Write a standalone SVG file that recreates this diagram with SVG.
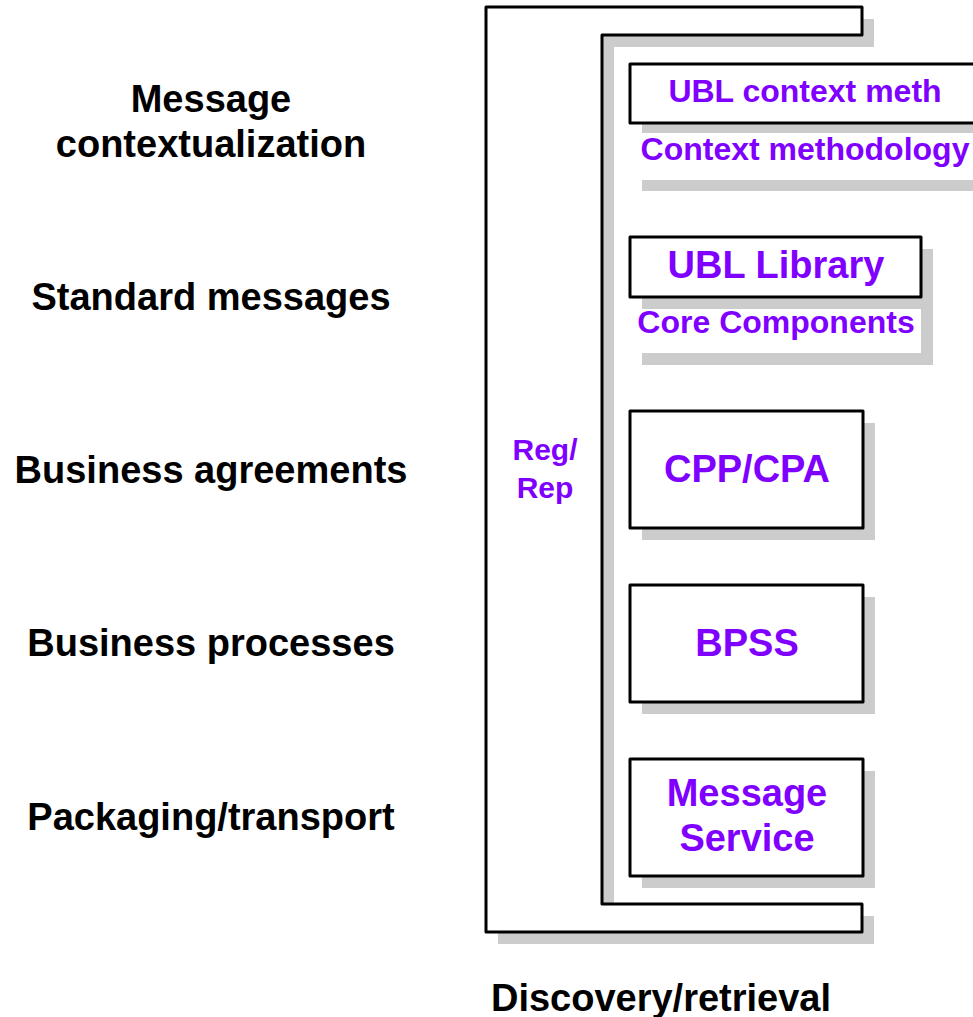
<svg xmlns="http://www.w3.org/2000/svg" width="973" height="1017" viewBox="0 0 973 1017">
<style>
.lbl{font-family:"Liberation Sans",Arial,sans-serif;font-weight:bold;font-size:38px;fill:#000;text-anchor:middle}
.pt{font-family:"Liberation Sans",Arial,sans-serif;font-weight:bold;fill:#7F00FF;text-anchor:middle}
.sh{fill:#CCCCCC;stroke:none}
.bx{fill:#FFFFFF;stroke:#000;stroke-width:3;stroke-linejoin:round}
.wh{fill:#FFFFFF;stroke:none}
</style>
<rect width="973" height="1017" fill="#FFFFFF"/>
<g id="labels">
<text class="lbl" x="211" y="112">Message</text>
<text class="lbl" x="211" y="157">contextualization</text>
<text class="lbl" x="211" y="310">Standard messages</text>
<text class="lbl" x="211" y="483">Business agreements</text>
<text class="lbl" x="211" y="656">Business processes</text>
<text class="lbl" x="211" y="830">Packaging/transport</text>
<text class="lbl" x="661" y="1011">Discovery/retrieval</text>
</g>
<g id="regrep">
<polygon class="sh" points="498,19 874,19 874,47 614,47 614,916 874,916 874,944 498,944"/>
<polygon class="bx" points="486,7 862,7 862,35 602,35 602,904 862,904 862,932 486,932"/>
<text class="pt" x="545" y="460" font-size="30">Reg/</text>
<text class="pt" x="545" y="498" font-size="30">Rep</text>
</g>
<g id="ubl-context">
<rect class="sh" x="642" y="76" width="350" height="115"/>
<rect class="bx" x="630" y="64" width="350" height="59"/>
<rect class="wh" x="630" y="133" width="350" height="47"/>
<text class="pt" x="805" y="102" font-size="32">UBL context meth</text>
<text class="pt" x="805" y="160" font-size="32">Context methodology</text>
</g>
<g id="ubl-library">
<rect class="sh" x="642" y="249" width="291" height="116"/>
<rect class="bx" x="630" y="237" width="291" height="60"/>
<rect class="wh" x="630" y="309" width="291" height="44"/>
<text class="pt" x="776" y="278" font-size="38">UBL Library</text>
<text class="pt" x="776" y="333" font-size="32">Core Components</text>
</g>
<g id="cpp-cpa">
<rect class="sh" x="642" y="423" width="233" height="117"/>
<rect class="bx" x="630" y="411" width="233" height="117"/>
<text class="pt" x="747" y="482" font-size="38">CPP/CPA</text>
</g>
<g id="bpss">
<rect class="sh" x="642" y="597" width="233" height="117"/>
<rect class="bx" x="630" y="585" width="233" height="117"/>
<text class="pt" x="747" y="656" font-size="38">BPSS</text>
</g>
<g id="message-service">
<rect class="sh" x="642" y="771" width="233" height="117"/>
<rect class="bx" x="630" y="759" width="233" height="117"/>
<text class="pt" x="747" y="806" font-size="38">Message</text>
<text class="pt" x="747" y="851" font-size="38">Service</text>
</g>
<g id="connectors"></g>
</svg>
